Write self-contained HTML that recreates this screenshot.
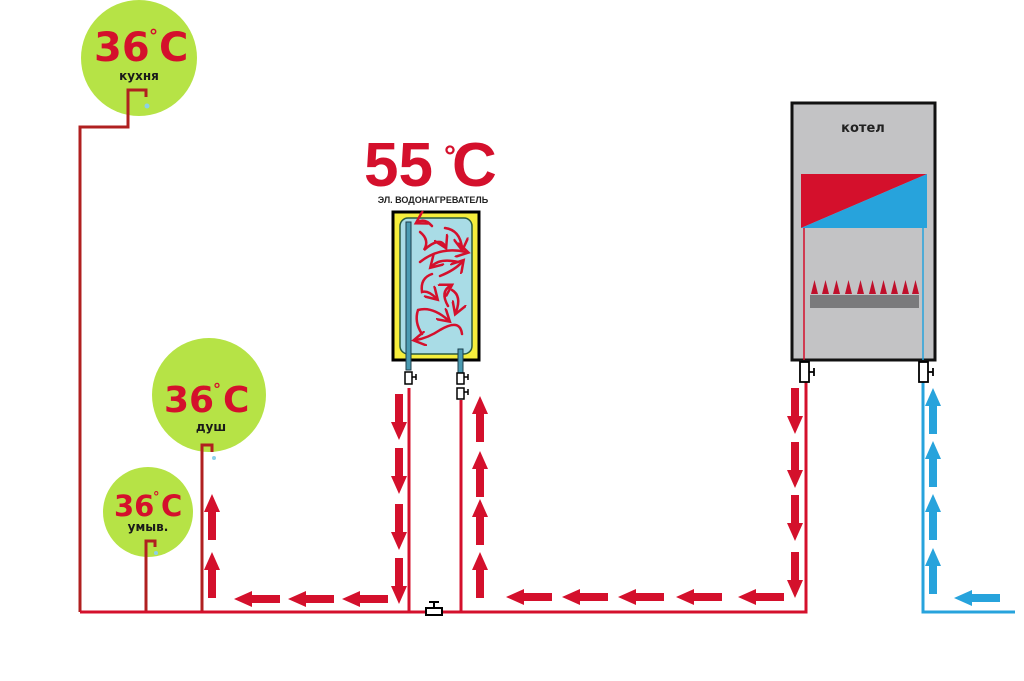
<!DOCTYPE html>
<html><head><meta charset="utf-8"><style>
html,body{margin:0;padding:0;background:#fff;width:1024px;height:681px;overflow:hidden}
svg{display:block}
text{font-family:"Liberation Sans",sans-serif;font-weight:bold}
.d{font-family:"DejaVu Sans","Liberation Sans",sans-serif}
</style></head><body>
<svg width="1024" height="681" viewBox="0 0 1024 681" xmlns="http://www.w3.org/2000/svg">
<defs>
<path id="ar" d="M-4,0 H4 V28 H8 L0,46 L-8,28 H-4 Z" fill="#d4102c"/>
<path id="ab" d="M-4,0 H4 V28 H8 L0,46 L-8,28 H-4 Z" fill="#27a3dc"/>
<marker id="mh" markerWidth="6" markerHeight="6" refX="4" refY="3" orient="auto" markerUnits="strokeWidth"><path d="M0,0 L5,3 L0,6" fill="none" stroke="#d4102c" stroke-width="1"/></marker>
</defs>
<circle cx="139" cy="58" r="58" fill="#b6e346"/>
<circle cx="209" cy="395" r="57" fill="#b6e346"/>
<circle cx="148" cy="512" r="45" fill="#b6e346"/>
<g fill="#d4102c" class="d">
<text class="d" x="94" y="61" font-size="40">36</text><text class="d" x="159" y="61" font-size="40">C</text><text class="d" x="149" y="42" font-size="18">°</text>
<text class="d" x="164" y="412" font-size="36">36</text><text class="d" x="223" y="412" font-size="36">C</text><text class="d" x="213" y="395" font-size="16">°</text>
<text class="d" x="114" y="516" font-size="29">36</text><text class="d" x="161" y="516" font-size="29">C</text><text class="d" x="153" y="501" font-size="13">°</text>
</g>
<g fill="#1a1a1a" text-anchor="middle">
<text class="d" x="139" y="80" font-size="12">кухня</text>
<text class="d" x="211" y="431" font-size="12">душ</text>
<text class="d" x="148" y="531" font-size="12">умыв.</text>
</g>
<g fill="none" stroke="#b02020" stroke-width="3">
<path d="M80,612 V127 H128 V90 H146 V97"/>
<path d="M202,612 V445 H212 V452"/>
<path d="M146,612 V541 H155 V547"/>
</g>
<circle cx="147" cy="106" r="2.5" fill="#8cd0e8"/>
<circle cx="214" cy="458" r="2" fill="#8cd0e8"/>
<circle cx="156" cy="553" r="2" fill="#8cd0e8"/>
<g fill="none" stroke="#d4102c" stroke-width="3">
<path d="M80,612 H806 V360"/>
<path d="M409,388 V612"/>
<path d="M461,400 V612"/>
</g>
<path d="M923,360 V612 H1015" fill="none" stroke="#27a3dc" stroke-width="3"/>
<rect x="426" y="608" width="16" height="7" fill="#fff" stroke="#000" stroke-width="2"/>
<path d="M434,608 V602 M429,602 H439" stroke="#000" stroke-width="2"/>
<text x="364" y="186" font-size="62" fill="#d4102c">55</text>
<text x="452" y="186" font-size="62" fill="#d4102c">C</text>
<text x="444" y="166" font-size="30" fill="#d4102c">°</text>
<text x="433" y="203" font-size="9" fill="#222" text-anchor="middle">ЭЛ. ВОДОНАГРЕВАТЕЛЬ</text>
<rect x="393" y="212" width="86" height="148" fill="#f6ee3c" stroke="#000" stroke-width="3"/>
<rect x="400" y="218" width="72" height="136" rx="8" fill="#a9dce6" stroke="#2a5a40" stroke-width="1.5"/>
<rect x="406" y="222" width="5" height="148" fill="#4a9bb2" stroke="#1c3c4a" stroke-width="1"/>
<rect x="458" y="349" width="5" height="24" fill="#4a9bb2" stroke="#1c3c4a" stroke-width="1"/>
<g fill="none" stroke="#d4102c" stroke-width="2.5" stroke-linecap="round" marker-end="url(#mh)">
<path d="M432,226 Q425,218 418,222"/>
<path d="M420,232 Q430,240 424,250 Q440,236 445,246"/>
<path d="M445,228 Q460,230 462,248"/>
<path d="M420,262 Q440,246 466,252"/>
<path d="M458,262 Q440,258 432,266"/>
<path d="M440,276 Q455,270 462,262"/>
<path d="M432,274 Q420,278 422,292 Q428,290 436,298"/>
<path d="M448,306 Q440,292 450,286"/>
<path d="M452,290 Q462,296 456,312"/>
<path d="M422,334 Q414,322 418,310 Q432,306 448,320"/>
<path d="M462,334 Q460,318 440,330 Q428,338 416,340"/>
</g>
<g fill="#fff" stroke="#000" stroke-width="1.5">
<rect x="405" y="372" width="7" height="12"/><path d="M412,377 h4 m0,-3 v6" fill="none"/>
<rect x="457" y="373" width="7" height="11"/><path d="M464,377 h4 m0,-3 v6" fill="none"/>
<rect x="457" y="388" width="7" height="11"/><path d="M464,392 h4 m0,-3 v6" fill="none"/>
</g>
<rect x="792" y="103" width="143" height="257" fill="#c3c3c5" stroke="#111" stroke-width="3"/>
<text class="d" x="863" y="132" font-size="13" fill="#222" text-anchor="middle">котел</text>
<polygon points="801,174 927,174 801,228" fill="#d4102c"/>
<polygon points="927,174 927,228 801,228" fill="#27a3dc"/>
<rect x="810" y="295" width="109" height="13" fill="#7a7a7c"/>
<g fill="#c0102c">
<polygon points="811,294 818,294 814.5,280"/><polygon points="822,294 829,294 825.5,280"/><polygon points="833,294 840,294 836.5,280"/><polygon points="845,294 852,294 848.5,280"/><polygon points="857,294 864,294 860.5,280"/><polygon points="869,294 876,294 872.5,280"/><polygon points="880,294 887,294 883.5,280"/><polygon points="891,294 898,294 894.5,280"/><polygon points="902,294 909,294 905.5,280"/><polygon points="912,294 919,294 915.5,280"/>
</g>
<path d="M804,228 V360" stroke="#d4102c" stroke-width="1.5"/>
<path d="M923,228 V360" stroke="#27a3dc" stroke-width="1.5"/>
<g fill="#fff" stroke="#000" stroke-width="1.8">
<rect x="800" y="362" width="9" height="20"/><path d="M809,372 h5 m0,-4 v8" fill="none"/>
<rect x="919" y="362" width="9" height="20"/><path d="M928,372 h5 m0,-4 v8" fill="none"/>
</g>
<use href="#ar" transform="translate(399,394)"/>
<use href="#ar" transform="translate(399,448)"/>
<use href="#ar" transform="translate(399,504)"/>
<use href="#ar" transform="translate(399,558)"/>
<use href="#ar" transform="translate(480,442) rotate(180)"/>
<use href="#ar" transform="translate(480,497) rotate(180)"/>
<use href="#ar" transform="translate(480,545) rotate(180)"/>
<use href="#ar" transform="translate(480,598) rotate(180)"/>
<use href="#ar" transform="translate(212,540) rotate(180)"/>
<use href="#ar" transform="translate(212,598) rotate(180)"/>
<use href="#ar" transform="translate(280,599) rotate(90)"/>
<use href="#ar" transform="translate(334,599) rotate(90)"/>
<use href="#ar" transform="translate(388,599) rotate(90)"/>
<use href="#ar" transform="translate(552,597) rotate(90)"/>
<use href="#ar" transform="translate(608,597) rotate(90)"/>
<use href="#ar" transform="translate(664,597) rotate(90)"/>
<use href="#ar" transform="translate(722,597) rotate(90)"/>
<use href="#ar" transform="translate(784,597) rotate(90)"/>
<use href="#ar" transform="translate(795,388)"/>
<use href="#ar" transform="translate(795,442)"/>
<use href="#ar" transform="translate(795,495)"/>
<use href="#ar" transform="translate(795,552)"/>
<use href="#ab" transform="translate(933,434) rotate(180)"/>
<use href="#ab" transform="translate(933,487) rotate(180)"/>
<use href="#ab" transform="translate(933,540) rotate(180)"/>
<use href="#ab" transform="translate(933,594) rotate(180)"/>
<use href="#ab" transform="translate(1000,598) rotate(90)"/>
</svg>
</body></html>
